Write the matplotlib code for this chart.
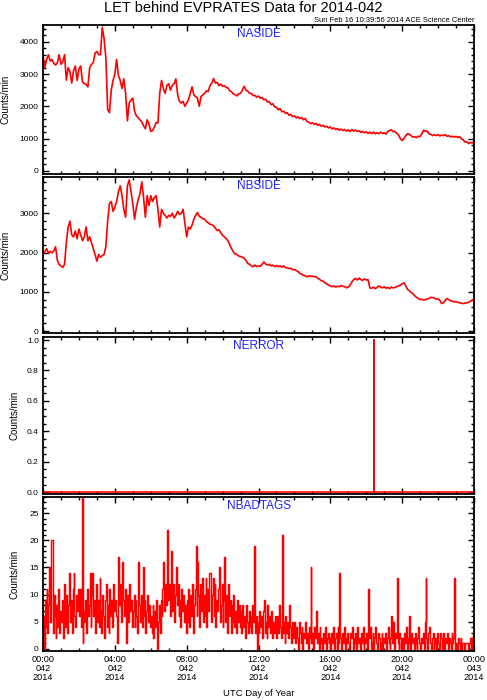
import numpy as np
import matplotlib
matplotlib.use("Agg")
import matplotlib.pyplot as plt
from matplotlib.ticker import MultipleLocator

plt.rcParams['font.family'] = ['Liberation Sans', 'DejaVu Sans']

# ---------------- data (day 2014-042, sampled every 0.1 h) ----------------
naside_v = [
    3590, 3200, 3450, 3600, 3400, 3450, 3330, 3280, 3350, 3600,
    3300, 3380, 3600, 2810, 3200, 3070, 2720, 3100, 3250, 2800,
    3150, 3250, 2750, 2700, 2680, 2600, 3200, 3300, 3350, 3650,
    3700, 3600, 3600, 4450, 4100, 3500, 1900, 1800, 2500, 2800,
    3000, 3450, 2950, 2800, 2550, 2850, 2400, 1550, 2100, 2200,
    2250, 1850, 1700, 1650, 1580, 1520, 1400, 1300, 1580, 1450,
    1220, 1250, 1350, 1500, 1480, 2400, 2800, 2550, 2400, 2650,
    2700, 2500, 2650, 2700, 2850, 2350, 2150, 2100, 2150, 2000,
    2100, 2200, 2400, 2600, 2350, 2300, 2250, 2000, 2300, 2350,
    2400, 2480, 2460, 2640, 2720, 2860, 2720, 2740, 2640, 2690,
    2620, 2640, 2580, 2570, 2480, 2450, 2380, 2360, 2320, 2390,
    2400, 2500, 2620, 2500, 2470, 2400, 2400, 2330, 2340, 2280,
    2320, 2250, 2270, 2200, 2220, 2130, 2140, 2050, 2080, 1980,
    1970, 1890, 1930, 1830, 1850, 1780, 1800, 1720, 1750, 1680,
    1700, 1640, 1670, 1620, 1650, 1580, 1620, 1530, 1510, 1460,
    1490, 1440, 1470, 1410, 1440, 1380, 1410, 1360, 1380, 1330,
    1360, 1300, 1330, 1280, 1310, 1260, 1290, 1250, 1280, 1230,
    1270, 1220, 1280, 1230, 1260, 1220, 1240, 1190, 1220, 1180,
    1210, 1160, 1200, 1150, 1200, 1150, 1180, 1150, 1200, 1160,
    1180, 1140, 1220, 1250, 1270, 1210, 1220, 1160, 1110, 990,
    940, 1000, 1090, 1150, 1130, 1090, 1040, 1060, 1030, 1070,
    1060, 1160, 1260, 1220, 1230, 1140, 1130, 1090, 1120, 1090,
    1120, 1080, 1110, 1090, 1120, 1070, 1090, 1050, 1070, 1040,
    1070, 1030, 1060, 990, 960, 890, 900, 840, 880, 860,
    910]

nbside_v = [
    1950, 2020, 2100, 1990, 2030, 1990, 2040, 2150, 1800, 1700,
    1660, 1620, 1700, 2250, 2650, 2800, 2450, 2400, 2550, 2350,
    2600, 2450, 2300, 2400, 2650, 2300, 2400, 2250, 2100, 1950,
    1780, 1950, 1880, 1920, 1950, 2150, 2800, 3250, 3300, 3050,
    3150, 3300, 3550, 3700, 3450, 3100, 2900, 3700, 3850, 3550,
    3250, 2850, 3150, 3350, 3500, 3800, 3400, 2900, 3450, 3200,
    3450, 3300, 3400, 3450, 3100, 2650, 3100, 3000, 2950, 2880,
    2950, 2920, 3000, 2880, 2950, 3050, 2970, 3000, 3100, 2750,
    2400, 2650, 2600, 2700, 2850, 2950, 3020, 2920, 2900, 2860,
    2850, 2790, 2760, 2720, 2710, 2680, 2620, 2560, 2580, 2500,
    2440, 2400, 2360, 2300, 2200, 2100, 2020, 1960, 1950, 1910,
    1900, 1880, 1860, 1800, 1720, 1700, 1660, 1640, 1680, 1640,
    1660, 1650, 1700, 1760, 1710, 1680, 1700, 1660, 1680, 1640,
    1670, 1640, 1660, 1630, 1660, 1620, 1610, 1590, 1600, 1560,
    1570, 1540, 1520, 1470, 1450, 1420, 1410, 1380, 1410, 1390,
    1400, 1380, 1390, 1340, 1320, 1280, 1270, 1230, 1200, 1170,
    1150, 1130, 1150, 1120, 1140, 1130, 1160, 1140, 1130, 1100,
    1120, 1170, 1250, 1310, 1340, 1300, 1350, 1310, 1290, 1330,
    1300, 1310, 1100, 1090, 1120, 1080, 1110, 1150, 1120, 1100,
    1130, 1090, 1110, 1080, 1120, 1100, 1110, 1130, 1150, 1170,
    1200, 1230, 1150, 1060, 1030, 980, 950, 900, 860, 830,
    800, 810, 790, 800, 820, 830, 860, 850, 840, 810,
    820, 780, 700, 720, 780, 830, 800, 770, 760, 740,
    750, 730, 720, 710, 700, 710, 720, 730, 760, 790,
    800]

nerror_t = [0.00, 18.40, 18.41, 18.43, 24.00]
nerror_v = [0, 0, 1, 0, 0]

# NBADTAGS, 3-minute samples (20 per hour)
nbadtags_v = [
    6, 0, 9, 4, 11, 3, 8, 15, 5, 20, 20, 3, 10, 6, 2, 8, 4, 11, 3, 7,
    5, 9, 2, 12, 6, 4, 10, 3, 8, 14, 5, 9, 3, 11, 14, 6, 4, 10, 7, 11,
    6, 11, 4, 28, 1, 7, 5, 9, 3, 11, 6, 8, 14, 4, 10, 14, 6, 9, 3, 12,
    5, 9, 4, 13, 7, 3, 10, 6, 2, 9, 12, 4, 8, 3, 11, 6, 9, 4, 12, 7,
    9, 6, 1, 11, 17, 8, 12, 5, 16, 9, 6, 11, 1, 8, 10, 5, 12, 7, 9, 4,
    7, 10, 4, 9, 6, 3, 16, 8, 5, 10, 4, 15, 6, 9, 3, 7, 10, 5, 8, 4,
    6, 3, 8, 2, 7, 4, 9, 0, 5, 8, 3, 9, 6, 11, 16, 7, 12, 8, 22, 9,
    12, 6, 11, 18, 7, 12, 5, 10, 15, 8, 12, 6, 9, 4, 11, 7, 10, 5, 8, 3,
    9, 5, 11, 4, 10, 6, 12, 3, 8, 11, 19, 6, 16, 10, 4, 12, 7, 13, 5, 10,
    6, 13, 4, 11, 7, 14, 14, 5, 10, 13, 6, 12, 4, 9, 7, 11, 15, 5, 8, 12,
    4, 9, 17, 5, 10, 3, 12, 6, 9, 3, 8, 5, 10, 4, 7, 3, 9, 5, 8, 4,
    7, 3, 8, 4, 6, 2, 8, 5, 3, 7, 4, 6, 3, 8, 5, 19, 3, 6, 0, 5,
    3, 7, 4, 6, 2, 7, 9, 3, 5, 2, 8, 4, 6, 3, 7, 2, 5, 3, 6, 4,
    2, 6, 3, 8, 4, 2, 21, 3, 5, 1, 6, 3, 5, 2, 8, 4, 1, 5, 2, 4,
    5, 1, 4, 2, 0, 5, 3, 1, 4, 0, 3, 2, 5, 1, 3, 0, 4, 2, 15, 1,
    3, 0, 4, 2, 7, 1, 3, 0, 4, 1, 2, 0, 3, 1, 4, 0, 2, 3, 1, 2,
    0, 3, 1, 4, 0, 2, 3, 0, 4, 1, 14, 2, 0, 3, 1, 4, 0, 2, 1, 3,
    1, 0, 3, 2, 4, 0, 2, 1, 3, 0, 4, 1, 2, 0, 3, 1, 4, 0, 2, 1,
    3, 0, 11, 2, 4, 0, 1, 3, 0, 2, 4, 1, 0, 3, 2, 0, 1, 3, 0, 2,
    1, 3, 0, 2, 4, 1, 0, 2, 6, 1, 5, 0, 3, 2, 13, 1, 0, 3, 2, 0,
    2, 0, 3, 1, 4, 0, 2, 1, 6, 0, 3, 1, 2, 0, 3, 1, 0, 2, 4, 1,
    0, 2, 1, 3, 0, 5, 13, 2, 0, 3, 4, 1, 0, 2, 3, 0, 1, 2, 0, 3,
    1, 0, 3, 2, 0, 1, 3, 0, 2, 1, 3, 0, 2, 1, 0, 3, 1, 2, 13, 0,
    1, 0, 2, 1, 0, 2, 0, 1, 1, 0, 1, 1, 1, 0, 1, 1, 2, 0, 2, 3]

naside_t = np.arange(len(naside_v)) / 10.0
nbside_t = np.arange(len(nbside_v)) / 10.0
nbadtags_t = (np.arange(len(nbadtags_v)) + 0.5) / 20.0

panel_names = ["NASIDE", "NBSIDE", "NERROR", "NBADTAGS"]
x_ticklabels = ["00:00\n042\n2014", "04:00\n042\n2014", "08:00\n042\n2014",
                "12:00\n042\n2014", "16:00\n042\n2014", "20:00\n042\n2014",
                "00:00\n043\n2014"]

title = "LET behind EVPRATES Data for 2014-042"
stamp = "Sun Feb 16 10:39:56 2014 ACE Science Center"

# ---------------- figure ----------------
W, H = 487, 700
fig = plt.figure(figsize=(W / 100, H / 100), dpi=100)

def ax_rect(top, bottom, left=43, right=474):
    return [left / W, 1 - bottom / H, (right - left) / W, (bottom - top) / H]

rects = [ax_rect(25, 174), ax_rect(177, 333), ax_rect(337, 494), ax_rect(497, 651)]
series = [(naside_t, naside_v), (nbside_t, nbside_v), (nerror_t, nerror_v),
          (nbadtags_t, nbadtags_v)]
ylims = [(-100, 4520), (-50, 3925), (-0.012, 1.02), (-0.4, 28.0)]
ymajor = [1000, 1000, 0.2, 5]
yminor = [200, 200, 0.05, 1]
yfmt = [lambda v: "%d" % v, lambda v: "%d" % v, lambda v: "%.1f" % v, lambda v: "%d" % v]
ylabel_x = [6, 6, 14, 14]

for i, (r, (t, v)) in enumerate(zip(rects, series)):
    ax = fig.add_axes(r)
    if i == 3:
        ax.plot(t, v, color='#ff0000', lw=1.05, drawstyle='steps-mid')
    elif i == 2:
        ax.plot(t, v, color='#ff0000', lw=1.2, drawstyle='steps-mid')
    else:
        ax.plot(t, v, color='#ff0000', lw=1.2)
    ax.set_xlim(0, 24)
    ax.set_ylim(*ylims[i])
    ax.xaxis.set_major_locator(MultipleLocator(4))
    ax.xaxis.set_minor_locator(MultipleLocator(1))
    ax.yaxis.set_major_locator(MultipleLocator(ymajor[i]))
    ax.yaxis.set_minor_locator(MultipleLocator(yminor[i]))
    ax.tick_params(which='both', direction='in', top=True, right=True, width=1.0,
                   labelsize=6.0, colors='black', pad=3)
    ax.tick_params(which='major', length=4)
    ax.tick_params(which='minor', length=2)
    for s in ax.spines.values():
        s.set_linewidth(1.3)
    yt = [y for y in ax.get_yticks() if ylims[i][0] - 1e-9 <= y <= ylims[i][1] + 1e-9]
    ax.set_yticks(yt)
    ax.set_yticklabels([yfmt[i](y) for y in yt])
    if i == 3:
        ax.set_xticks([0, 4, 8, 12, 16, 20, 24])
        ax.set_xticklabels(x_ticklabels, fontsize=6.6, linespacing=1.0)
        ax.set_xlabel("UTC Day of Year", fontsize=6.8, labelpad=5)
    else:
        ax.set_xticklabels([])
    ax.text(0.5, 1 - 9 / (r[3] * H), panel_names[i], transform=ax.transAxes,
            ha='center', va='center', color='#2020ff', fontsize=8.5)
    fig.text(ylabel_x[i] / W, r[1] + r[3] / 2, "Counts/min", rotation=90,
             ha='center', va='center', fontsize=7.0)

fig.text(0.5, 1 - 8 / H, title, ha='center', va='center', fontsize=10.5)
fig.text(474 / W, 1 - 20 / H, stamp, ha='right', va='center', fontsize=5.4)

fig.savefig("out.png", dpi=100)
